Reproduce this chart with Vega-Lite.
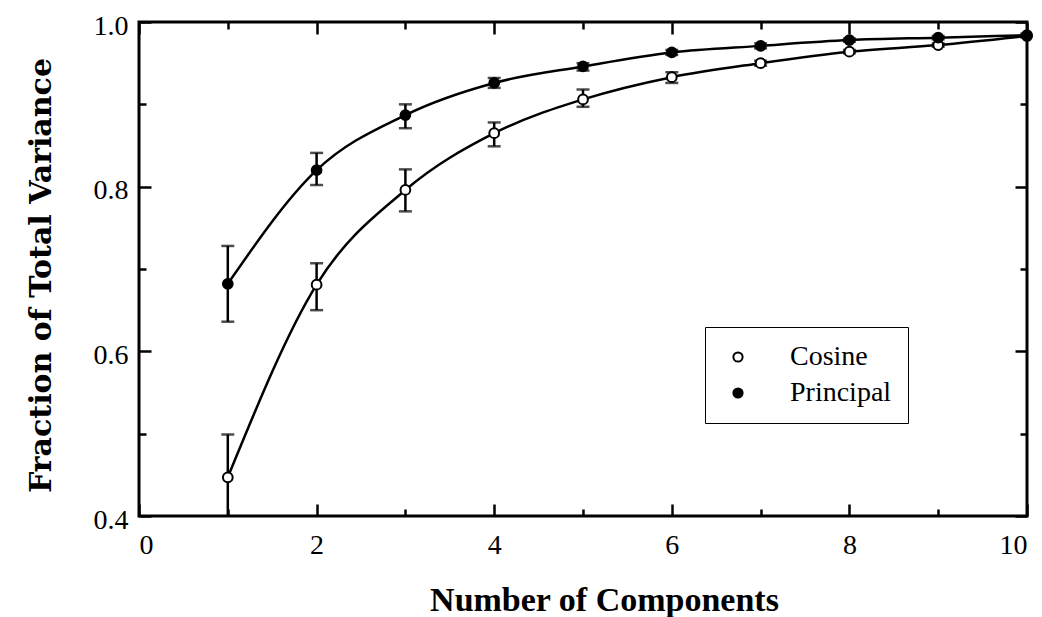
{
  "$schema": "https://vega.github.io/schema/vega-lite/v6.json",
  "width": 888,
  "height": 494,
  "autosize": {"type": "none"},
  "padding": {"left": 139, "top": 22, "right": 15, "bottom": 101},
  "background": "white",
  "config": {
    "view": {"stroke": "black", "strokeWidth": 3},
    "font": "Liberation Serif"
  },
  "data": {
    "values": [
      {"n": 1, "method": "Cosine", "value": 0.447, "lo": 0.394, "hi": 0.499},
      {"n": 2, "method": "Cosine", "value": 0.681, "lo": 0.650, "hi": 0.707},
      {"n": 3, "method": "Cosine", "value": 0.796, "lo": 0.770, "hi": 0.821},
      {"n": 4, "method": "Cosine", "value": 0.865, "lo": 0.849, "hi": 0.878},
      {"n": 5, "method": "Cosine", "value": 0.906, "lo": 0.897, "hi": 0.918},
      {"n": 6, "method": "Cosine", "value": 0.933, "lo": 0.926, "hi": 0.939},
      {"n": 7, "method": "Cosine", "value": 0.950, "lo": 0.947, "hi": 0.953},
      {"n": 8, "method": "Cosine", "value": 0.964, "lo": 0.962, "hi": 0.966},
      {"n": 9, "method": "Cosine", "value": 0.972, "lo": 0.970, "hi": 0.974},
      {"n": 10, "method": "Cosine", "value": 0.983, "lo": 0.981, "hi": 0.985},
      {"n": 1, "method": "Principal", "value": 0.682, "lo": 0.636, "hi": 0.728},
      {"n": 2, "method": "Principal", "value": 0.820, "lo": 0.802, "hi": 0.841},
      {"n": 3, "method": "Principal", "value": 0.887, "lo": 0.871, "hi": 0.900},
      {"n": 4, "method": "Principal", "value": 0.926, "lo": 0.920, "hi": 0.932},
      {"n": 5, "method": "Principal", "value": 0.946, "lo": 0.941, "hi": 0.950},
      {"n": 6, "method": "Principal", "value": 0.963, "lo": 0.960, "hi": 0.966},
      {"n": 7, "method": "Principal", "value": 0.971, "lo": 0.968, "hi": 0.974},
      {"n": 8, "method": "Principal", "value": 0.978, "lo": 0.976, "hi": 0.980},
      {"n": 9, "method": "Principal", "value": 0.981, "lo": 0.979, "hi": 0.983},
      {"n": 10, "method": "Principal", "value": 0.984, "lo": 0.982, "hi": 0.986}
    ]
  },
  "layer": [
    {
      "mark": {"type": "line", "interpolate": "monotone", "color": "black", "strokeWidth": 2.5},
      "encoding": {
        "x": {
          "field": "n", "type": "quantitative",
          "scale": {"domain": [0, 10], "nice": false},
          "axis": {
            "orient": "bottom",
            "values": [0, 1, 2, 3, 4, 5, 6, 7, 8, 9, 10],
            "labelExpr": "datum.value % 2 == 0 ? datum.label : ''",
            "domain": false,
            "tickColor": "black",
            "tickWidth": 2.5,
            "tickSize": {"condition": {"test": "datum.value % 2 == 1", "value": -7}, "value": -12},
            "labelFont": "Liberation Serif",
            "labelFontSize": 28,
            "labelColor": "black",
            "labelPadding": 27,
            "title": "Number of Components",
            "titleFont": "Liberation Serif",
            "titleFontSize": 34,
            "titleFontWeight": "bold",
            "titleColor": "black",
            "titleX": 465,
            "titleY": 84,
            "titleBaseline": "middle",
            "titleAlign": "center",
            "grid": false
          }
        },
        "y": {
          "field": "value", "type": "quantitative",
          "scale": {"domain": [0.4, 1.0], "nice": false, "zero": false},
          "axis": {
            "orient": "left",
            "values": [0.4, 0.5, 0.6, 0.7, 0.8, 0.9, 1.0],
            "format": ".1f",
            "labelExpr": "round(datum.value * 10) % 2 == 0 ? datum.label : ''",
            "domain": false,
            "tickColor": "black",
            "tickWidth": 2.5,
            "tickSize": {"condition": {"test": "round(datum.value * 10) % 2 == 1", "value": -7}, "value": -12},
            "labelFont": "Liberation Serif",
            "labelFontSize": 28,
            "labelColor": "black",
            "labelPadding": 23,
            "labelOffset": 4,
            "title": "Fraction of Total Variance",
            "titleFont": "DejaVu Serif",
            "titleFontSize": 30,
            "titleFontWeight": "bold",
            "titleColor": "black",
            "titleAngle": -90,
            "titleX": -98,
            "titleY": 253,
            "titleBaseline": "middle",
            "titleAlign": "center",
            "grid": false
          }
        },
        "detail": {"field": "method", "type": "nominal"}
      }
    },
    {
      "mark": {"type": "errorbar", "color": "black", "clip": true, "rule": {"strokeWidth": 2.5, "color": "black"}, "ticks": {"size": 13, "thickness": 2.5, "color": "black"}},
      "encoding": {
        "x": {"field": "n", "type": "quantitative", "axis": null},
        "y": {"field": "lo", "type": "quantitative", "axis": null},
        "y2": {"field": "hi"},
        "detail": {"field": "method", "type": "nominal"}
      }
    },
    {
      "mark": {"type": "point", "shape": "circle", "filled": false, "stroke": "black", "strokeWidth": 2, "size": 95, "opacity": 1},
      "encoding": {
        "x": {
          "field": "n", "type": "quantitative",
          "axis": {
            "orient": "top",
            "values": [0, 1, 2, 3, 4, 5, 6, 7, 8, 9, 10],
            "labels": false,
            "domain": false,
            "title": null,
            "tickColor": "black",
            "tickWidth": 2.5,
            "tickSize": {"condition": {"test": "datum.value % 2 == 1", "value": -7}, "value": -12},
            "grid": false
          }
        },
        "y": {
          "field": "value", "type": "quantitative",
          "axis": {
            "orient": "right",
            "values": [0.4, 0.5, 0.6, 0.7, 0.8, 0.9, 1.0],
            "labels": false,
            "domain": false,
            "title": null,
            "tickColor": "black",
            "tickWidth": 2.5,
            "tickSize": {"condition": {"test": "round(datum.value * 10) % 2 == 1", "value": -7}, "value": -12},
            "grid": false
          }
        },
        "fill": {
          "field": "method", "type": "nominal",
          "scale": {"domain": ["Cosine", "Principal"], "range": ["white", "black"]},
          "legend": {
            "title": null,
            "orient": "none",
            "legendX": 566,
            "legendY": 305,
            "strokeColor": "black",
            "fillColor": "white",
            "padding": 16,
            "symbolType": "circle",
            "symbolSize": 85,
            "symbolStrokeColor": "black",
            "symbolStrokeWidth": 2,
            "symbolOffset": 3,
            "labelOffset": 38,
            "labelFont": "Liberation Serif",
            "labelFontSize": 28,
            "labelColor": "black",
            "rowPadding": 8,
            "labelLimit": 300
          }
        }
      }
    }
  ],
  "resolve": {"axis": {"x": "independent", "y": "independent"}}
}
